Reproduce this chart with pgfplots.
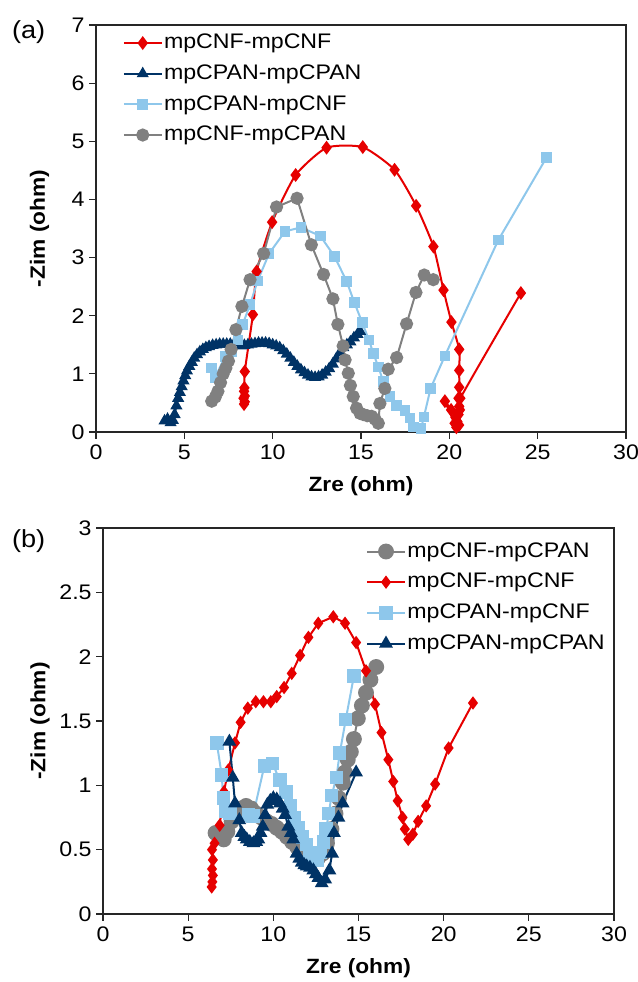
\documentclass[border=0pt]{standalone}
\usepackage{fontspec}
\setmainfont{Liberation Sans}[FakeStretch=1.1]
\usepackage{pgfplots}
\pgfplotsset{compat=1.18}
\definecolor{cred}{RGB}{230,0,0}
\definecolor{cnavy}{RGB}{0,51,102}
\definecolor{clight}{RGB}{142,199,235}
\definecolor{cgrey}{RGB}{128,128,128}
\pgfplotsset{
  myaxis/.style={
    scale only axis, anchor=north west,
    axis line style={draw=black!85, line width=1pt},
    every tick/.style={draw=black!85, line width=0.8pt},
    tick align=outside, major tick length=5pt,
    xtick pos=bottom, ytick pos=left,
    xmin=0, xmax=30, xtick={0,5,...,30},
    tick label style={font=\fontsize{15.8}{19}\selectfont},
    xticklabel style={yshift=-1pt},
    label style={font=\fontsize{15.5}{19}\selectfont\bfseries},
    /pgf/number format/assume math mode=true,
    legend style={draw=none, fill=none, inner sep=0pt,
      font=\fontsize{15.8}{19}\selectfont, row sep=5.5pt,
      nodes={inner sep=1pt, text height=12pt, text depth=3.5pt}},
    legend cell align=left,
    legend image code/.code={\draw[mark repeat=2,mark phase=2] plot coordinates {(0cm,0cm) (0.5cm,0cm) (1cm,0cm)};},
  },
  sred/.style={color=cred, line width=1.5pt, mark=diamond*, mark size=4pt, mark options={solid, fill=cred}},
  snavy/.style={color=cnavy, line width=1.5pt, mark=triangle*, mark size=3.8pt, mark options={solid, fill=cnavy}},
  slight/.style={color=clight, line width=1.5pt, mark=square*, mark size=3.2pt, mark options={solid, fill=clight}},
  sgrey/.style={color=cgrey, line width=1.5pt, mark=*, mark size=4.2pt, mark options={solid, fill=cgrey}},
}
\begin{document}
\begin{tikzpicture}
\useasboundingbox (0,0) rectangle (478.5pt,-736.5pt);
% ---------------- panel (a)
\begin{axis}[myaxis, at={(72pt,-18.75pt)}, width=397.5pt, height=305.25pt,
  ymin=0, ymax=7, ytick={0,1,...,7},
  xlabel={Zre (ohm)}, ylabel={-Zim (ohm)},
  xlabel style={at={(axis description cs:0.5,-0.1327)}, anchor=center},
  ylabel style={at={(axis description cs:-0.1066,0.5)}, anchor=center},
  legend style={at={(axis description cs:0.05,0.985)}, anchor=north west}]
\addplot[sred, smooth, tension=0.35] coordinates {
(8.38,0.48) (8.42,0.52) (8.35,0.58) (8.42,0.62) (8.38,0.70) (8.40,0.76) (8.42,1.04)
(8.88,2.02) (9.09,2.76) (9.97,3.61) (11.3,4.42) (13.05,4.89) (15.1,4.90) (16.9,4.51)
(18.12,3.89) (19.1,3.19) (19.67,2.44) (20.12,1.89) (20.56,1.42) (20.56,1.06) (20.56,0.77)
(20.52,0.58) (20.56,0.44) (20.52,0.30) (20.45,0.18) (20.4,0.08) (20.3,0.15) (19.75,0.53)
(20.1,0.38) (20.35,0.25) (20.55,0.12) (20.6,0.38) (20.62,0.58) (24.05,2.39)};
\addlegendentry{mpCNF-mpCNF}
\addplot[snavy] coordinates {
(3.88,0.19) (4.05,0.22) (4.22,0.16) (4.35,0.20) (4.45,0.30) (4.55,0.45) (4.65,0.58)
(4.75,0.68) (4.85,0.78) (4.95,0.88) (5.05,0.97) (5.15,1.05) (5.28,1.13) (5.42,1.20)
(5.56,1.27) (5.72,1.33) (5.88,1.38) (6.05,1.42) (6.22,1.45) (6.40,1.47) (6.60,1.49)
(6.80,1.50) (7.00,1.51) (7.20,1.51) (7.40,1.51) (7.60,1.51) (7.80,1.50) (8.00,1.49)
(8.20,1.48) (8.40,1.49) (8.60,1.50) (8.80,1.51) (9.00,1.52) (9.20,1.53) (9.40,1.53)
(9.60,1.53) (9.80,1.52) (10.00,1.50) (10.20,1.48) (10.40,1.45) (10.60,1.40) (10.80,1.34)
(11.00,1.27) (11.20,1.20) (11.40,1.13) (11.60,1.07) (11.80,1.02) (12.00,0.98) (12.20,0.95)
(12.40,0.94) (12.60,0.95) (12.80,0.98) (13.00,1.03) (13.20,1.09) (13.40,1.17) (13.60,1.26)
(13.80,1.36) (14.00,1.45) (14.20,1.50) (14.40,1.55) (14.60,1.62) (14.80,1.68) (14.95,1.73)};
\addlegendentry{mpCPAN-mpCPAN}
\addplot[slight] coordinates {
(6.55,1.10) (6.75,0.94) (7.30,1.30) (7.70,1.38) (8.05,1.58) (8.30,1.85) (8.72,2.19)
(9.15,2.60) (9.80,3.07) (10.70,3.45) (11.60,3.52) (12.70,3.37) (13.50,3.02) (14.19,2.59)
(14.62,2.23) (15.07,1.88) (15.45,1.58) (15.70,1.35) (15.98,1.12) (16.26,0.87) (16.64,0.61)
(17.02,0.46) (17.49,0.37) (17.77,0.24) (17.96,0.09) (18.40,0.06) (18.56,0.26) (18.94,0.75)
(19.75,1.31) (22.77,3.30) (25.50,4.72)};
\addlegendentry{mpCPAN-mpCNF}
\addplot[sgrey] coordinates {
(6.55,0.53) (6.75,0.60) (6.90,0.70) (7.05,0.85) (7.20,1.00) (7.35,1.10) (7.50,1.22)
(7.65,1.42) (7.92,1.76) (8.26,2.16) (8.72,2.62) (9.49,3.07) (10.22,3.87) (11.38,4.02)
(12.19,3.22) (12.88,2.71) (13.41,2.29) (13.69,1.85) (13.99,1.48) (14.10,1.24) (14.28,1.01)
(14.40,0.80) (14.56,0.61) (14.75,0.41) (14.95,0.32) (15.13,0.30) (15.35,0.28) (15.60,0.27)
(15.80,0.22) (15.98,0.15) (16.07,0.49) (16.35,0.75) (16.54,1.08) (17.02,1.28) (17.58,1.86)
(18.11,2.40) (18.58,2.70) (19.09,2.62)};
\addlegendentry{mpCNF-mpCPAN}
\end{axis}
\node[font=\fontsize{18.5}{22}\selectfont, anchor=center] at (21.5pt,-24pt) {(a)};
% ---------------- panel (b)
\begin{axis}[myaxis, at={(77.25pt,-396pt)}, width=383.25pt, height=289.5pt,
  ymin=0, ymax=3, ytick={0,0.5,...,3},
  yticklabel style={/pgf/number format/fixed},
  xlabel={Zre (ohm)}, ylabel={-Zim (ohm)},
  xlabel style={at={(axis description cs:0.5,-0.1399)}, anchor=center},
  ylabel style={at={(axis description cs:-0.1233,0.5)}, anchor=center},
  legend style={at={(axis description cs:0.985,0.97)}, anchor=north east},
  sred/.append style={mark size=3.8pt},
  snavy/.append style={mark size=4.5pt},
  slight/.append style={mark size=4.3pt},
  sgrey/.append style={mark size=5.2pt}]
\addplot[sgrey] coordinates {
(6.61,0.63) (6.85,0.60) (7.09,0.58) (7.30,0.64) (7.55,0.72) (7.80,0.78) (8.10,0.82)
(8.40,0.84) (8.70,0.82) (9.00,0.78) (9.30,0.75) (9.60,0.72) (9.90,0.70) (10.20,0.67)
(10.50,0.64) (10.80,0.60) (11.10,0.56) (11.40,0.52) (11.70,0.48) (12.00,0.45) (12.30,0.43)
(12.60,0.43) (12.90,0.47) (13.15,0.55) (13.41,0.66) (13.65,0.78) (13.85,0.90) (14.08,1.02)
(14.20,1.10) (14.37,1.20) (14.55,1.26) (14.73,1.36) (14.96,1.52) (15.20,1.62) (15.44,1.72)
(15.70,1.82) (16.04,1.92)};
\addlegendentry{mpCNF-mpCPAN}
\addplot[sred] coordinates {
(6.38,0.21) (6.42,0.25) (6.45,0.30) (6.40,0.35) (6.45,0.42) (6.40,0.50) (6.55,0.55)
(6.85,0.69) (7.10,0.95) (7.36,1.12) (7.75,1.33) (8.08,1.49) (8.50,1.60) (8.97,1.65)
(9.42,1.65) (9.85,1.65) (10.20,1.69) (10.63,1.76) (11.08,1.87) (11.57,2.01) (12.06,2.15)
(12.64,2.26) (13.52,2.31) (14.21,2.26) (14.86,2.11) (15.44,1.89) (15.97,1.63) (16.35,1.41)
(16.75,1.20) (17.04,1.03) (17.30,0.88) (17.59,0.75) (17.72,0.66) (17.92,0.58) (18.19,0.62)
(18.50,0.72) (18.97,0.84) (19.50,1.01) (20.29,1.29) (21.72,1.64)};
\addlegendentry{mpCNF-mpCNF}
\addplot[slight] coordinates {
(6.68,1.33) (6.97,1.08) (7.06,0.90) (7.20,0.80) (7.46,0.78) (8.53,0.77) (8.80,0.76)
(9.47,1.15) (9.95,1.17) (10.38,1.04) (10.75,0.95) (11.00,0.84) (11.20,0.75) (11.45,0.67)
(11.70,0.60) (11.95,0.54) (12.15,0.48) (12.35,0.44) (12.55,0.42) (12.75,0.48) (12.95,0.56)
(13.10,0.66) (13.25,0.78) (13.42,0.92) (13.70,1.06) (13.90,1.25) (14.25,1.51) (14.73,1.85)};
\addlegendentry{mpCPAN-mpCNF}
\addplot[snavy] coordinates {
(7.42,1.34) (7.62,1.06) (7.75,0.86) (8.00,0.73) (8.14,0.63) (8.30,0.60) (8.44,0.58)
(8.62,0.56) (8.83,0.55) (9.00,0.56) (9.12,0.58) (9.25,0.63) (9.38,0.68) (9.52,0.77)
(9.65,0.85) (9.82,0.88) (10.00,0.90) (10.20,0.89) (10.39,0.86) (10.55,0.82) (10.69,0.77)
(10.88,0.68) (11.03,0.63) (11.17,0.58) (11.37,0.47) (11.52,0.43) (11.67,0.40) (11.82,0.38)
(11.96,0.37) (12.15,0.36) (12.35,0.34) (12.50,0.31) (12.64,0.28) (12.84,0.24) (13.04,0.27)
(13.29,0.34) (13.45,0.47) (13.56,0.63) (13.82,0.75) (14.07,0.86) (14.86,1.10)};
\addlegendentry{mpCPAN-mpCPAN}
\end{axis}
\node[font=\fontsize{18.5}{22}\selectfont, anchor=center] at (21.5pt,-405.5pt) {(b)};
\end{tikzpicture}
\end{document}
